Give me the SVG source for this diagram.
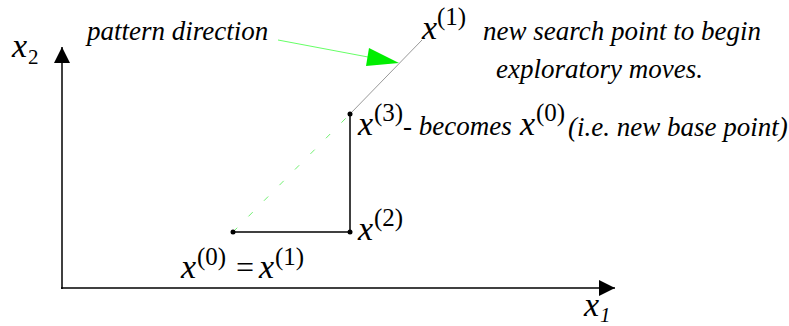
<svg xmlns="http://www.w3.org/2000/svg" width="789" height="326" viewBox="0 0 789 326">
<style>
text{font-family:"Liberation Serif","Times New Roman",serif;fill:#000}
.it{font-style:italic;font-size:27px}
.mx{font-style:italic;font-size:34px}
.sup{font-size:25px}
.sub{font-size:21px}
.ax{stroke:#000;stroke-width:1.5;fill:none}
.mv{stroke:#000;stroke-width:1.5;fill:none}
.dot{fill:#000}
</style>
<defs>
<marker id="ah" viewBox="0 0 16 16" refX="16" refY="8" markerWidth="16" markerHeight="16" markerUnits="userSpaceOnUse" orient="auto">
<path d="M0,0 L16,8 L0,16 Z" fill="#000"/>
</marker>
</defs>
<g id="connectors">
<line class="ax" x1="62" y1="289" x2="62" y2="47" marker-end="url(#ah)"/>
<line class="ax" x1="61" y1="288" x2="615" y2="288" marker-end="url(#ah)"/>
<line x1="233" y1="232" x2="350" y2="114" stroke="#70f070" stroke-width="1" stroke-dasharray="6 16"/>
<line x1="350" y1="114" x2="422" y2="40" stroke="#999" stroke-width="1"/>
<line class="mv" x1="233" y1="232" x2="350" y2="232"/>
<line class="mv" x1="350" y1="232" x2="350" y2="114"/>
<line x1="278" y1="40" x2="368" y2="57" stroke="#66ff66" stroke-width="1"/>
<polygon points="399,63 369,48 366,66" fill="#00ee00"/>
</g>
<g id="axis-x2"><text x="12" y="57" class="mx">x</text><text x="28" y="64" class="sub">2</text></g>
<g id="axis-x1"><text x="584" y="316" class="mx">x</text><text x="600" y="322" class="sub" font-style="italic">1</text></g>
<g id="label-pattern"><text x="87" y="40" class="it">pattern direction</text></g>
<g id="node-x1"><text x="422" y="39" class="mx">x</text><text x="437" y="25" class="sup">(1)</text></g>
<g id="label-new"><text x="483" y="40" class="it">new search point to begin</text><text x="496" y="78" class="it">exploratory moves.</text></g>
<g id="node-x3"><circle class="dot" cx="350" cy="114" r="2.5"/><text x="358" y="135" class="mx">x</text><text x="374" y="121" class="sup">(3)</text><text x="403" y="135" class="it">- becomes</text><text x="520" y="135" class="mx">x</text><text x="536" y="121" class="sup">(0)</text><text x="568" y="136" class="it">(i.e. new base point)</text></g>
<g id="node-x2"><circle class="dot" cx="350" cy="232" r="2.5"/><text x="358" y="240" class="mx">x</text><text x="374" y="226" class="sup">(2)</text></g>
<g id="node-x0"><circle class="dot" cx="233" cy="232" r="2.5"/><text x="181" y="278" class="mx">x</text><text x="197" y="265" class="sup">(0)</text><text x="236" y="278" font-size="32">=</text><text x="259" y="278" class="mx">x</text><text x="275" y="265" class="sup">(1)</text></g>
</svg>
